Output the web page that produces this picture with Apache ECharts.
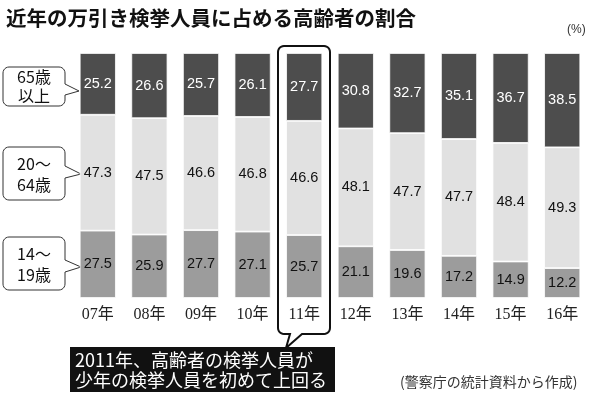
<!DOCTYPE html>
<html><head><meta charset="utf-8">
<script src="https://cdn.jsdelivr.net/npm/echarts@6/dist/echarts.min.js"></script>
<style>html,body{margin:0;padding:0;background:#fff}#c{width:606px;height:406px}</style>
</head><body><div id="c"></div>
<script>
const categories = ['07年','08年','09年','10年','11年','12年','13年','14年','15年','16年'];
const age65plus = [25.2, 26.6, 25.7, 26.1, 27.7, 30.8, 32.7, 35.1, 36.7, 38.5];
const age20to64 = [47.3, 47.5, 46.6, 46.8, 46.6, 48.1, 47.7, 47.7, 48.4, 49.3];
const age14to19 = [27.5, 25.9, 27.7, 27.1, 25.7, 21.1, 19.6, 17.2, 14.9, 12.2];

const chart = echarts.init(document.getElementById('c'), null, {renderer:'canvas'});
const jp = '"Noto Sans CJK JP", "Noto Sans", sans-serif';
const lblFont = '"Liberation Sans", Arial, sans-serif';

function arc(pts, cx, cy, r, a0, a1) {
  const n = 6;
  for (let i = 0; i <= n; i++) {
    const a = a0 + (a1 - a0) * i / n;
    pts.push([cx + r * Math.cos(a), cy + r * Math.sin(a)]);
  }
}
// rounded rect with optional pointer on right side or bottom
function shapePts(x, y, w, h, r, ptr) {
  const R = x + w, B = y + h, P = Math.PI, pts = [];
  arc(pts, x + r, y + r, r, P, 1.5 * P);
  arc(pts, R - r, y + r, r, 1.5 * P, 2 * P);
  if (ptr && ptr.side === 'right') { pts.push([R, ptr.a], [ptr.tx, ptr.ty], [R, ptr.b]); }
  arc(pts, R - r, B - r, r, 0, 0.5 * P);
  if (ptr && ptr.side === 'bottom') { pts.push([ptr.b, B], [ptr.tx, ptr.ty], [ptr.a, B]); }
  arc(pts, x + r, B - r, r, 0.5 * P, P);
  return pts;
}

function seg(name, data, color, textColor) {
  return {
    name: name, type: 'bar', stack: 'total', data: data, barWidth: '70%',
    itemStyle: {color: color, borderColor: '#fff', borderWidth: 0.8},
    label: {show: true, position: 'inside', color: textColor, fontSize: 14.5, fontFamily: lblFont,
      formatter: p => p.value.toFixed(1)},
    emphasis: {disabled: true}
  };
}

chart.setOption({
  animation: false,
  backgroundColor: '#fff',
  grid: {left: 72, right: 18, top: 53, bottom: 108},
  xAxis: {type: 'category', data: categories,
    axisLine: {show: false}, axisTick: {show: false},
    axisLabel: {margin: 9, fontSize: 16, color: '#222', fontFamily: '"Liberation Serif", "Noto Sans CJK JP", serif'}},
  yAxis: {type: 'value', min: 0, max: 100, show: false},
  series: [
    seg('14～19歳', age14to19, '#9c9c9c', '#111'),
    seg('20～64歳', age20to64, '#e1e1e1', '#111'),
    seg('65歳以上', age65plus, '#4d4d4d', '#fff')
  ],
  graphic: [
    {type: 'text', left: 6, top: 8, style: {text: '近年の万引き検挙人員に占める高齢者の割合', fontSize: 20.5, fontWeight: 'bold', fill: '#111', fontFamily: jp}},
    {type: 'text', left: 567, top: 24, style: {text: '(%)', fontSize: 12, fill: '#333', fontFamily: lblFont}},
    {type: 'polygon', shape: {points: shapePts(3, 67, 62, 39, 6, {side: 'right', a: 84, b: 95, tx: 79, ty: 91})}, style: {fill: '#fff', stroke: '#333', lineWidth: 1}},
    {type: 'text', x: 34, y: 86, style: {text: '65歳\n以上', fontSize: 16, lineHeight: 19, fill: '#111', align: 'center', verticalAlign: 'middle', fontFamily: jp}},
    {type: 'polygon', shape: {points: shapePts(3, 147, 62, 53, 6, {side: 'right', a: 166, b: 178, tx: 81, ty: 174})}, style: {fill: '#fff', stroke: '#333', lineWidth: 1}},
    {type: 'text', x: 34, y: 174, style: {text: '20～\n64歳', fontSize: 16, lineHeight: 21, fill: '#111', align: 'center', verticalAlign: 'middle', fontFamily: jp}},
    {type: 'polygon', shape: {points: shapePts(3, 237, 62, 53, 6, {side: 'right', a: 260, b: 272, tx: 81, ty: 267})}, style: {fill: '#fff', stroke: '#333', lineWidth: 1}},
    {type: 'text', x: 34, y: 264, style: {text: '14～\n19歳', fontSize: 16, lineHeight: 21, fill: '#111', align: 'center', verticalAlign: 'middle', fontFamily: jp}},
    {type: 'polygon', shape: {points: shapePts(278, 46, 52, 288, 6, {side: 'bottom', a: 290, b: 302, tx: 286, ty: 348})}, style: {fill: 'none', stroke: '#111', lineWidth: 2}},
    {type: 'rect', shape: {x: 70, y: 347, width: 265, height: 45}, style: {fill: '#111'}},
    {type: 'text', left: 75, top: 350, style: {text: '2011年、高齢者の検挙人員が\n少年の検挙人員を初めて上回る', fontSize: 18, lineHeight: 20, fill: '#fff', fontFamily: jp}},
    {type: 'text', left: 400, top: 375, style: {text: '(警察庁の統計資料から作成)', fontSize: 14, fill: '#333', fontFamily: jp}}
  ]
});
</script></body></html>
